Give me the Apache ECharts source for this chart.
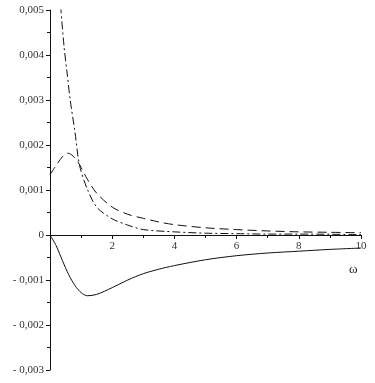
<!DOCTYPE html>
<html>
<head>
<meta charset="utf-8">
<script src="https://cdn.jsdelivr.net/npm/echarts@6/dist/echarts.min.js"></script>
<style>
  html, body { margin: 0; padding: 0; background: #fff; }
  #chart { width: 375px; height: 383px; }
</style>
</head>
<body>
<div id="chart"></div>
<script>
// omega values and the three curves
const xSolid = [0, 0.2, 0.4, 0.6, 0.8, 1.0, 1.2, 1.5, 2, 2.5, 3, 3.5, 4, 5, 6, 7, 8, 9, 10]
const ySolid = [0, -0.00024, -0.00057, -0.00088, -0.00112, -0.00128, -0.00135, -0.00132, -0.00117, -0.001, -0.00086, -0.00076, -0.00068, -0.00055, -0.00046, -0.0004, -0.00036, -0.00032, -0.00029]

const xDash = [0, 0.2, 0.4, 0.55, 0.7, 0.9, 1.0, 1.2, 1.5, 2, 2.5, 3, 3.5, 4, 5, 6, 7, 8, 9, 10]
const yDash = [0.00134, 0.00155, 0.00174, 0.00182, 0.00178, 0.00162, 0.0015, 0.00124, 0.00093, 0.00062, 0.00046, 0.00037, 0.00029, 0.00023, 0.00016, 0.00012, 0.00009, 0.00007, 0.00006, 0.00005]

const xDashDot = [0.34, 0.45, 0.55, 0.65, 0.8, 0.95, 1.2, 1.5, 2, 2.5, 3, 4, 5, 6, 7, 8, 10]
const yDashDot = [0.0051, 0.0042, 0.0036, 0.003, 0.0023, 0.00155, 0.00102, 0.00062, 0.00036, 0.00022, 0.00012, 0.00007, 0.00004, 0.00003, 0.00002, 0.00002, 0.00001]

const pairs = (xs, ys) => xs.map((x, i) => [x, ys[i]])

const fmtY = v => {
  if (Math.abs(v) < 1e-9) return '0'
  const s = Math.abs(v).toFixed(3).replace('.', ',')
  return v < 0 ? '- ' + s : s
}

const font = '"Liberation Serif", "DejaVu Serif", serif'
const ink = '#111'

const chart = echarts.init(document.getElementById('chart'))
chart.setOption({
  animation: false,
  backgroundColor: '#fff',
  grid: { left: 50, right: 14, top: 10, bottom: 13, outerBoundsMode: 'none' },
  xAxis: {
    type: 'value',
    min: 0,
    max: 10,
    interval: 2,
    position: 'bottom',
    // lift the axis up to y = 0 (grid bottom is at -0.003)
    offset: -135,
    axisLine: { onZero: false, lineStyle: { color: ink, width: 1 } },
    axisTick: { show: true, length: 4, lineStyle: { color: ink } },
    minorTick: { show: true, splitNumber: 2, length: 3, lineStyle: { color: ink } },
    splitLine: { show: false },
    axisLabel: {
      color: '#333', fontFamily: font, fontSize: 11, margin: 6,
      formatter: v => (v === 0 ? '' : String(v))
    }
  },
  yAxis: {
    type: 'value',
    min: -0.003,
    max: 0.005,
    interval: 0.001,
    axisLine: { show: true, onZero: false, lineStyle: { color: ink, width: 1 } },
    axisTick: { show: true, length: 4, lineStyle: { color: ink } },
    minorTick: { show: true, splitNumber: 2, length: 3, lineStyle: { color: ink } },
    splitLine: { show: false },
    axisLabel: { color: '#333', fontFamily: font, fontSize: 11, margin: 6, formatter: fmtY }
  },
  graphic: [{
    type: 'text',
    left: 349,
    top: 263,
    style: { text: 'ω', font: '13px ' + font, fill: '#222' }
  }],
  series: [
    {
      type: 'line', data: pairs(xSolid, ySolid), smooth: 0.3,
      showSymbol: false, lineStyle: { color: ink, width: 1, type: 'solid' }
    },
    {
      type: 'line', data: pairs(xDash, yDash), smooth: 0.3,
      showSymbol: false, lineStyle: { color: ink, width: 1, type: [9, 5] }
    },
    {
      type: 'line', data: pairs(xDashDot, yDashDot), smooth: 0.3,
      showSymbol: false, lineStyle: { color: ink, width: 1, type: [8, 3, 2, 3] }
    }
  ]
})
</script>
</body>
</html>
